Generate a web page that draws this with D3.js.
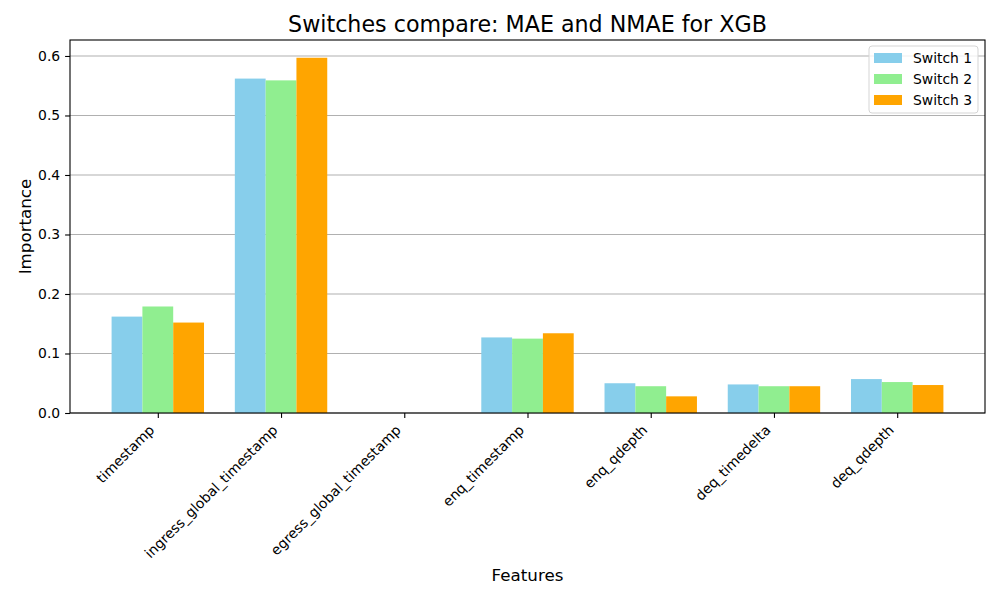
<!DOCTYPE html>
<html><head><meta charset="utf-8">
<script src="https://cdn.jsdelivr.net/npm/d3@7"></script>
<style>
body{margin:0;background:#fff;}
text{font-family:"DejaVu Sans",sans-serif;}
</style></head>
<body><svg id="c" width="1000" height="600"></svg>
<script>
const categories = ["timestamp","ingress_global_timestamp","egress_global_timestamp","enq_timestamp","enq_qdepth","deq_timedelta","deq_qdepth"];
const switch1 = [0.162,0.562,0,0.127,0.050,0.048,0.057];
const switch2 = [0.179,0.559,0,0.125,0.045,0.045,0.052];
const switch3 = [0.152,0.597,0,0.134,0.028,0.045,0.047];
const seriesNames = ["Switch 1","Switch 2","Switch 3"];
const colors = ["#87CEEB","#90EE90","#FFA500"];
const yTicks = [0,0.1,0.2,0.3,0.4,0.5,0.6];

const series = [switch1,switch2,switch3];
const L=70,R=985,T=40,B=413;
const svg=d3.select("#c");
const barW=0.25;
const n=categories.length;
const span=(n-1)+barW*3;
const x=d3.scaleLinear().domain([-0.375-span*0.05,(n-1)+0.375+span*0.05]).range([L,R]);
const ymax=d3.max(series.flat())*1.05;
const y=d3.scaleLinear().domain([0,ymax]).range([B,T]);

// grid
svg.append("g").selectAll("line").data(yTicks).join("line")
 .attr("x1",L).attr("x2",R).attr("y1",d=>y(d)).attr("y2",d=>y(d))
 .attr("stroke","#b0b0b0").attr("stroke-width",1.1);

// bars
series.forEach((s,i)=>{
 svg.append("g").selectAll("rect").data(s).join("rect")
  .attr("x",(d,j)=>x(j+(i-1)*barW-barW/2))
  .attr("width",(d,j)=>x(j+(i-1)*barW+barW/2)-x(j+(i-1)*barW-barW/2))
  .attr("y",d=>y(d)).attr("height",d=>B-y(d))
  .attr("fill",colors[i]);
});

// axes
const yAxis=d3.axisLeft(y).tickValues(yTicks).tickFormat(d3.format(".1f")).tickSize(4.9).tickPadding(4.9);
const gy=svg.append("g").attr("transform",`translate(${L},0)`).call(yAxis);
gy.attr("font-size",null).attr("font-family",null);
gy.select(".domain").remove();
gy.selectAll("text").style("font-size","13.9px").attr("fill","#000");
gy.selectAll("line").attr("stroke","#000").attr("stroke-width",1.1);

const xAxis=d3.axisBottom(x).tickValues(d3.range(n)).tickFormat(i=>categories[i]).tickSize(4.9);
const gx=svg.append("g").attr("transform",`translate(0,${B})`).call(xAxis);
gx.attr("font-size",null).attr("font-family",null);
gx.select(".domain").remove();
gx.selectAll("line").attr("stroke","#000").attr("stroke-width",1.1);
gx.selectAll("text").style("font-size","13.9px").attr("fill","#000")
 .attr("text-anchor","end").attr("y",0).attr("dy",0)
 .attr("transform","translate(-3,18) rotate(-45)");

// frame
svg.append("rect").attr("x",L).attr("y",T).attr("width",R-L).attr("height",B-T)
 .attr("fill","none").attr("stroke","#000").attr("stroke-width",1.1);

// title & labels
svg.append("text").attr("x",(L+R)/2).attr("y",T-8).attr("text-anchor","middle")
 .style("font-size","22.2px").text("Switches compare: MAE and NMAE for XGB");
svg.append("text").attr("x",(L+R)/2).attr("y",581).attr("text-anchor","middle")
 .style("font-size","16.7px").text("Features");
svg.append("text").attr("transform",`translate(31,${(T+B)/2}) rotate(-90)`).attr("text-anchor","middle")
 .style("font-size","16.7px").text("Importance");

// legend
const lg=svg.append("g").attr("transform","translate(869,46)");
lg.append("rect").attr("width",109).attr("height",67).attr("rx",3)
 .attr("fill","#fff").attr("fill-opacity",0.8).attr("stroke","#d5d5d5");
seriesNames.forEach((nm,i)=>{
 lg.append("rect").attr("x",5).attr("y",7+i*21).attr("width",28).attr("height",10).attr("fill",colors[i]);
 lg.append("text").attr("x",44).attr("y",17+i*21).style("font-size","13.9px").text(nm);
});
</script></body></html>
